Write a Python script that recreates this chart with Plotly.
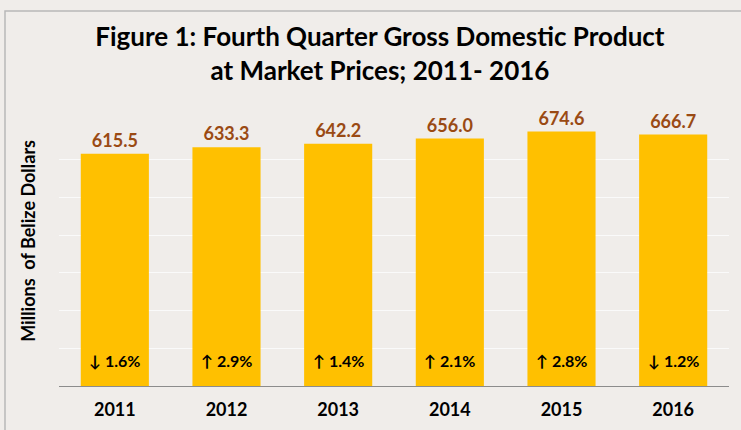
import plotly.graph_objects as go

years = ["2011", "2012", "2013", "2014", "2015", "2016"]
gdp = [615.5, 633.3, 642.2, 656.0, 674.6, 666.7]
changes = ["↓ 1.6%", "↑ 2.9%", "↑ 1.4%", "↑ 2.1%", "↑ 2.8%", "↓ 1.2%"]

FONT = "Lato"
BG = "#F0EDEA"

fig = go.Figure(
    go.Bar(
        x=years,
        y=gdp,
        marker=dict(color="#FFC000", line=dict(width=0)),
        text=[f"{v:.1f}" for v in gdp],
        textposition="outside",
        textfont=dict(family=FONT, size=18, color="#9A4A14", weight="bold"),
        cliponaxis=False,
        hoverinfo="skip",
    )
)

# growth labels at the foot of each bar (category index, numeric strings confuse annotations)
for i, ch in enumerate(changes):
    fig.add_annotation(
        x=i, y=0, text=ch, showarrow=False,
        yanchor="bottom", yshift=14,
        font=dict(family=FONT, size=16, color="black", weight="bold"),
    )

# y-axis title as an annotation, it sits a bit above the plot's middle
fig.add_annotation(
    xref="paper", yref="paper", x=-0.0463, y=0.55,
    xanchor="center", yanchor="middle",
    text="Millions&nbsp; of Belize Dollars", textangle=-90, showarrow=False,
    font=dict(family=FONT, size=18, color="black", weight="bold"),
)

# chart border (only top/left visible in the crop)
fig.add_shape(
    type="rect", xref="paper", yref="paper",
    x0=-0.0806, x1=1.2, y0=-0.6, y1=1.42,
    line=dict(color="#B8B8B8", width=1.5), layer="above",
)

fig.update_layout(
    width=741, height=430,
    paper_bgcolor=BG, plot_bgcolor=BG,
    margin=dict(l=59, r=12, t=122, b=44, autoexpand=False),
    bargap=0.39,
    showlegend=False,
    title=dict(
        text="Figure 1: Fourth Quarter Gross Domestic Product<br>at Market Prices; 2011- 2016",
        x=0.479, xref="paper", xanchor="center",
        y=0.892, yanchor="top",
        font=dict(family=FONT, size=26, color="black", weight="bold"),
    ),
    xaxis=dict(
        type="category", range=[-0.5, len(years) - 0.5], automargin=False,
        showgrid=False, showline=True, linecolor="#8C8C8C", linewidth=1,
        ticks="", ticklabelstandoff=7,
        tickfont=dict(family=FONT, size=18, color="black", weight="bold"),
    ),
    yaxis=dict(
        range=[0, 700], dtick=100, showticklabels=False, automargin=False,
        showgrid=True, gridcolor="#FAFAFA", gridwidth=1,
        zeroline=False,
    ),
)

# drop the page's default body margin so the figure sits at the window's corner
fig.write_html(
    "out.html",
    config={"displayModeBar": False},
    post_script="document.body.style.margin='0';",
)
